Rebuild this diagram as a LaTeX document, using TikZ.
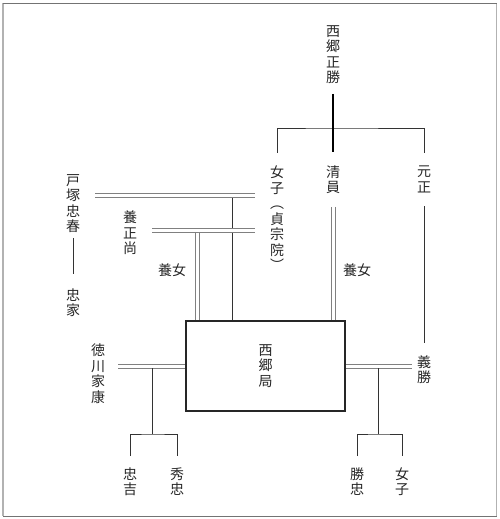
\documentclass[tikz,border=0pt]{standalone}
\usepackage{fontspec}
\setmainfont{Noto Sans CJK JP}

\begin{document}
\begin{tikzpicture}[x=1pt,y=-1pt,
  vt/.style={align=center,inner sep=0pt,font=\fontsize{14}{15.5}\selectfont,text=black!85},
  ht/.style={inner sep=0pt,font=\fontsize{14}{15.5}\selectfont,text=black!85},
  ln/.style={draw=black!80,line width=1pt},
  thickln/.style={draw=black,line width=2pt},
  dbl/.style={draw=black!50,double=white,double distance=3pt,line width=1pt},
  boxed/.style={draw=black!85,line width=1.5pt,minimum width=159pt,minimum height=90pt}]
\useasboundingbox (0,0) rectangle (500,519);
\draw[black!30,line width=1.5pt] (3,3.5) -- (3,516);
\draw[black!30,line width=1.5pt] (496.5,3.5) -- (496.5,516);
\draw[black!55,line width=1pt] (3,3.5) -- (496.5,3.5);
\draw[black!55,line width=1pt] (3,516) -- (496.5,516);
\node[vt] (masakatsu) at (333,54.5) {西\\郷\\正\\勝};
\node[vt] (nyoshi) at (277,218.5) {女\\子\\︵\\貞\\宗\\院\\︶};
\node[vt] (kiyokazu) at (333,179.5) {清\\員};
\node[vt] (motomasa) at (424,179.5) {元\\正};
\node[vt] (tozuka) at (73,203.5) {戸\\塚\\忠\\春};
\node[vt] (tadaie) at (73,302.5) {忠\\家};
\node[vt] (masanao) at (130,233) {養\\正\\尚};
\node[ht] (yojoa) at (172,270) {養女};
\node[ht] (yojob) at (357,270) {養女};
\node[boxed,vt] (tsubone) at (265.5,366) {西\\郷\\局};
\node[vt] (ieyasu) at (98,373.5) {徳\\川\\家\\康};
\node[vt] (yoshikatsu) at (424,369.5) {義\\勝};
\node[vt] (tadayoshi) at (130,481.5) {忠\\吉};
\node[vt] (hidetada) at (177,481.5) {秀\\忠};
\node[vt] (katsutada) at (357,481.5) {勝\\忠};
\node[vt] (nyoshib) at (402,481.5) {女\\子};
\coordinate (bar) at (333,128);
\coordinate (ma) at (255,195.5);
\coordinate (mb) at (255,230);
\coordinate (da) at (232,195.5);
\coordinate (db) at (197.5,230);
\coordinate (ldrop) at (152,366);
\coordinate (lbar) at (152,434);
\coordinate (rdrop) at (378,366);
\coordinate (rbar) at (378,434);
\draw[ln] ([yshift=13pt]nyoshi.north) |- (bar) -| ([yshift=13pt]motomasa.north);
\draw[thickln] ([yshift=-10pt]masakatsu.south) -- ([yshift=13pt]kiyokazu.north);
\draw[dbl] ([yshift=-13pt]kiyokazu.south) -- (kiyokazu.south |- tsubone.north);
\draw[ln] ([yshift=-13pt]motomasa.south) -- ([yshift=12pt]yoshikatsu.north);
\draw[ln] (tozuka.south) ++(0,5) -- ([yshift=14pt]tadaie.north);
\draw[dbl] ([xshift=15pt]tozuka.east |- ma) -- (ma);
\draw[ln] ([yshift=-2.5pt]da) -- (da |- tsubone.north);
\draw[dbl] ([xshift=15pt]masanao.east |- mb) -- (mb);
\draw[dbl] ([yshift=-2.5pt]db) -- (db |- tsubone.north);
\draw[dbl] ([xshift=13pt]ieyasu.east |- tsubone.west) -- (tsubone.west);
\draw[dbl] (tsubone.east) -- ([xshift=-5pt]yoshikatsu.west |- tsubone.east);
\draw[ln] ([yshift=-2pt]ldrop) -- (lbar);
\draw[ln] ([yshift=11pt]tadayoshi.north) |- (lbar) -| ([yshift=11pt]hidetada.north);
\draw[ln] ([yshift=-2pt]rdrop) -- (rbar);
\draw[ln] ([yshift=11pt]katsutada.north) |- (rbar) -| ([yshift=11pt]nyoshib.north);
\end{tikzpicture}
\end{document}
